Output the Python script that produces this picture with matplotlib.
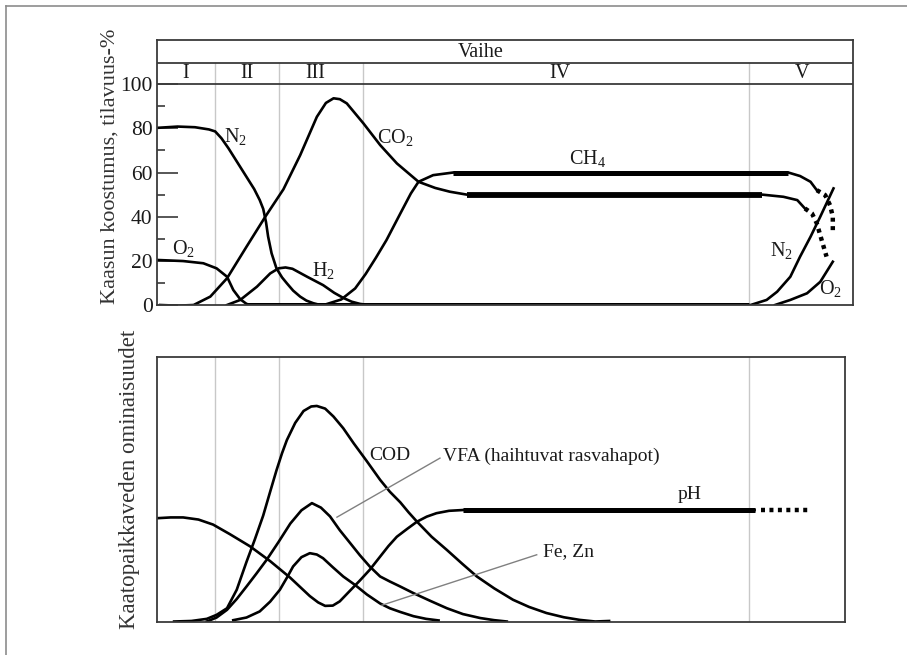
import numpy as np
import matplotlib
matplotlib.use('Agg')
import matplotlib.pyplot as plt
from matplotlib.lines import Line2D

plt.rcParams['font.family'] = ['Liberation Serif', 'DejaVu Serif']
plt.rcParams['mathtext.fontset'] = 'custom'
plt.rcParams['mathtext.rm'] = 'Liberation Serif'
plt.rcParams['mathtext.default'] = 'rm'

############################################
#
# Data (x: time, 0..100 across the top box).
#
phases = ['I', 'II', 'III', 'IV', 'V']
phase_mid = [4.2, 12.9, 22.7, 57.9, 92.7]
phase_edges = [8.4, 17.6, 29.6, 85.1]

# upper panel: gas composition, volume-%
n2_x = [0, 3.0, 5.5, 7.5, 8.4, 9.3, 10.3, 11.5, 12.9, 14.0, 14.8, 15.3, 15.7,
        16.0, 16.5, 17.2, 18.0, 18.7, 19.6, 20.6, 21.5, 22.5, 23.5]
n2_y = [80.2, 80.8, 80.5, 79.5, 78.6, 75.5, 71.0, 65.0, 58.0, 52.5, 47.5, 43.5,
        37.5, 31.0, 23.4, 16.6, 12.5, 9.8, 6.5, 3.8, 2.0, 0.8, 0.0]
o2_x = [0, 3.8, 6.7, 8.6, 10.1, 11.0, 12.0, 12.9, 13.5]
o2_y = [20.4, 19.9, 18.9, 16.6, 12.8, 6.8, 2.6, 0.5, 0.0]
co2_x = [0.5, 3.0, 5.3, 7.7, 10.1, 12.9, 15.6, 18.2, 20.6, 23.0, 24.3, 25.4,
         26.3, 27.3, 29.7, 32.1, 34.5, 37.6, 40.0, 42.1, 44.5, 86.9, 90.0,
         92.0, 93.1]
co2_y = [0.0, -0.3, 0.0, 3.8, 12.1, 26.4, 40.0, 52.4, 67.8, 85.2, 91.5, 93.6,
         93.2, 91.3, 82.2, 72.4, 64.1, 55.8, 53.0, 51.3, 50.0, 50.0, 49.0,
         47.5, 43.7]
co2_tail_x = [93.1, 94.1, 94.8, 95.5, 96.2]
co2_tail_y = [43.7, 41.5, 37.0, 29.4, 21.9]
ch4_x = [24.0, 26.5, 28.5, 30.0, 31.5, 33.0, 35.0, 36.5, 37.6, 39.7, 42.6,
         90.7, 92.4, 93.9, 94.8]
ch4_y = [0.0, 2.5, 7.5, 14.0, 21.5, 29.4, 41.5, 50.5, 55.8, 58.8, 60.0,
         60.0, 58.4, 55.8, 52.0]
ch4_tail_x = [94.8, 96.0, 96.7, 97.1, 97.1]
ch4_tail_y = [52.0, 49.8, 45.2, 40.0, 33.9]
h2_x = [10.1, 12.0, 14.4, 16.3, 17.5, 18.5, 19.5, 21.6, 23.9, 25.5, 26.8,
        28.0, 29.2, 30.5]
h2_y = [0.0, 2.3, 8.3, 14.3, 16.6, 17.0, 16.4, 12.8, 9.0, 5.5, 3.2, 1.5,
        0.5, 0.0]
zero_x = [13.0, 85.1]
zero_y = [0.0, 0.0]
n2_end_x = [85.3, 87.6, 89.1, 91.0, 92.4, 93.9, 95.3, 97.2]
n2_end_y = [0.0, 2.3, 6.0, 12.8, 21.9, 30.9, 40.0, 52.8]
o2_end_x = [88.8, 91.0, 93.4, 95.3, 97.1]
o2_end_y = [0.0, 2.3, 5.3, 10.5, 19.6]

# lower panel: leachate properties (relative scale)
cod_x = [2.5, 5.0, 7.2, 8.6, 10.1, 11.5, 12.9, 14.1, 15.3, 16.3, 17.2, 18.0,
         18.7, 19.9, 21.1, 22.2, 23.0, 24.2, 25.4, 26.8, 28.3, 30.2, 32.1,
         33.5, 35.0, 36.2, 37.4, 39.5, 41.7, 43.9, 46.0, 48.5, 51.2, 53.5,
         56.0, 58.5, 60.8, 63.0, 65.0]
cod_y = [0.0, 0.2, 1.0, 2.5, 5.0, 12.0, 22.5, 31.0, 40.0, 49.0, 57.0, 63.5,
         68.5, 75.0, 79.5, 81.2, 81.4, 80.4, 77.4, 73.0, 67.3, 60.5, 53.5,
         49.0, 45.0, 41.2, 37.7, 32.0, 27.0, 21.8, 17.0, 12.5, 8.2, 5.5,
         3.2, 1.6, 0.6, 0.0, 0.2]
vfa_x = [7.2, 8.6, 10.1, 11.5, 12.9, 14.3, 15.8, 17.5, 19.2, 20.8, 22.3, 23.6,
         24.9, 26.3, 27.8, 29.2, 30.6, 32.1, 33.5, 35.0, 36.9, 39.3, 41.7,
         44.0, 46.5, 48.5, 50.3]
vfa_y = [0.0, 1.5, 4.4, 8.5, 13.2, 18.0, 23.3, 30.0, 37.0, 42.0, 44.7, 43.0,
         39.7, 34.5, 29.6, 25.0, 20.8, 17.0, 15.1, 13.2, 10.7, 7.8, 5.0,
         2.8, 1.3, 0.5, 0.0]
fezn_x = [11.0, 12.9, 14.8, 16.3, 17.7, 18.7, 19.6, 20.8, 22.0, 23.0, 23.9,
          25.3, 26.8, 28.5, 30.2, 32.1, 33.5, 35.0, 36.9, 38.7, 40.5]
fezn_y = [0.5, 1.5, 3.8, 7.5, 12.0, 16.5, 20.8, 24.3, 25.8, 25.3, 23.9,
          20.5, 17.0, 13.8, 10.2, 6.8, 5.0, 3.6, 2.0, 1.0, 0.4]
ph_x = [0, 2.0, 3.8, 6.0, 8.1, 10.5, 13.4, 16.3, 19.2, 22.0, 23.2, 24.2,
        25.3, 26.3, 27.8, 29.2, 30.6, 32.1, 33.3, 34.5, 36.0, 37.4, 38.8,
        40.2, 42.0, 44.0, 85.9]
ph_y = [39.0, 39.3, 39.3, 38.5, 36.6, 33.0, 28.4, 22.8, 16.5, 9.6, 7.2, 5.9,
        6.0, 7.6, 11.7, 15.5, 19.5, 24.5, 28.5, 32.0, 35.0, 37.7, 39.6,
        40.9, 41.8, 42.1, 42.1]
ph_tail_x = [86.8, 94.0]
ph_tail_y = [42.1, 42.1]
vfa_ptr = ([25.9, 40.7], [39.4, 61.7])
fezn_ptr = ([32.3, 54.6], [6.1, 25.2])


############################################
#
# Helpers.
#
LW = 1.9
LW_THICK = 3.6
GRID = '#c8c8c8'
FRAME = '#3a3a3a'
TXT = '#1a1a1a'


def thick_part(x, y, x0, x1):
    x = np.asarray(x)
    y = np.asarray(y)
    m = (x >= x0) & (x <= x1)
    return x[m], y[m]


def dotted(ax, x, y):
    ax.plot(x, y, color='k', lw=3.2, linestyle=(0, (0.9, 1.0)),
            dash_capstyle='butt', solid_capstyle='butt')


W, H = 907, 655
fig = plt.figure(figsize=(W / 100, H / 100), dpi=100)

# thin frame around the page
fig.add_artist(Line2D([6 / W, 6 / W], [0, 1 - 6 / H], color='#8c8c8c', lw=1.2))
fig.add_artist(Line2D([6 / W, 1], [1 - 6 / H, 1 - 6 / H], color='#8c8c8c', lw=1.2))

############################################
#
# Upper panel.
#
ax1 = fig.add_axes([156.7 / W, 1 - 305 / H, (853 - 156.7) / W, (305 - 40) / H])
ax1.set_xlim(0, 100)
ax1.set_ylim(0, 120)
for s in ax1.spines.values():
    s.set_color(FRAME)
    s.set_linewidth(1.3)
ax1.set_xticks([])
ax1.set_yticks([0, 20, 40, 60, 80, 100])
ax1.set_yticks([10, 30, 50, 70, 90], minor=True)
ax1.tick_params(axis='y', which='major', direction='in', length=15, width=1.2,
                color=FRAME, labelsize=15.5, labelcolor=TXT, pad=3)
ax1.tick_params(axis='y', which='minor', direction='in', length=6, width=1.2,
                color=FRAME)

# header rows
ax1.axhline(100, color=FRAME, lw=1.3)
ax1.axhline(109.5, color=FRAME, lw=1.3)
for xe in phase_edges:
    ax1.plot([xe, xe], [0, 109.5], color=GRID, lw=1.0, zorder=1)
for lab, xm in zip(phases, phase_mid):
    ax1.text(xm, 104.8, lab, ha='center', va='center', fontsize=14.5, color=TXT)
ax1.text(46.6, 114.2, 'Vaihe', ha='center', va='center', fontsize=14.5, color=TXT)

for x, y in [(n2_x, n2_y), (o2_x, o2_y), (co2_x, co2_y), (ch4_x, ch4_y),
             (h2_x, h2_y), (n2_end_x, n2_end_y), (o2_end_x, o2_end_y)]:
    ax1.plot(x, y, color='k', lw=LW, solid_joinstyle='round')
ax1.plot(zero_x, zero_y, color='k', lw=LW_THICK, solid_capstyle='butt')
ax1.plot(*thick_part(co2_x, co2_y, 44.5, 86.9), color='k', lw=LW_THICK + 0.6,
         solid_capstyle='butt')
ax1.plot(*thick_part(ch4_x, ch4_y, 42.6, 90.7), color='k', lw=LW_THICK,
         solid_capstyle='butt')
dotted(ax1, co2_tail_x, co2_tail_y)
dotted(ax1, ch4_tail_x, ch4_tail_y)

lab_kw = dict(ha='center', va='center', fontsize=14.5, color=TXT)
ax1.text(11.3, 76.5, 'N$_2$', **lab_kw)
ax1.text(34.2, 76.0, 'CO$_2$', **lab_kw)
ax1.text(3.9, 25.5, 'O$_2$', **lab_kw)
ax1.text(23.9, 15.5, 'H$_2$', **lab_kw)
ax1.text(61.8, 66.5, 'CH$_4$', **lab_kw)
ax1.text(89.8, 24.5, 'N$_2$', **lab_kw)
ax1.text(96.8, 7.5, 'O$_2$', **lab_kw)

fig.text(110 / W, 1 - 166.5 / H, 'Kaasun koostumus, tilavuus-%', rotation=90,
         ha='center', va='center', fontsize=16, color='#333333')

############################################
#
# Lower panel.
#
ax2 = fig.add_axes([156.7 / W, 1 - 621.5 / H, (845 - 156.7) / W, (621.5 - 356.7) / H])
ax2.set_xlim(0, (845 - 156.7) / 6.96)
ax2.set_ylim(0, 100)
for s in ax2.spines.values():
    s.set_color(FRAME)
    s.set_linewidth(1.3)
ax2.set_xticks([])
ax2.set_yticks([])
for xe in phase_edges:
    ax2.plot([xe, xe], [0, 100], color=GRID, lw=1.0, zorder=1)

for x, y in [(cod_x, cod_y), (vfa_x, vfa_y), (fezn_x, fezn_y), (ph_x, ph_y)]:
    ax2.plot(x, y, color='k', lw=LW, solid_joinstyle='round')
ax2.plot(*thick_part(ph_x, ph_y, 44.0, 85.9), color='k', lw=LW_THICK,
         solid_capstyle='butt')
dotted(ax2, ph_tail_x, ph_tail_y)

ax2.plot(*vfa_ptr, color='#808080', lw=1.0)
ax2.plot(*fezn_ptr, color='#808080', lw=1.0)

ax2.text(30.6, 62.5, 'COD', ha='left', va='center', fontsize=14, color=TXT)
ax2.text(41.2, 62.5, 'VFA (haihtuvat rasvahapot)', ha='left', va='center',
         fontsize=14, color=TXT)
ax2.text(55.5, 26.4, 'Fe, Zn', ha='left', va='center', fontsize=14, color=TXT)
ax2.text(76.6, 47.8, 'pH', ha='center', va='center', fontsize=14, color=TXT)

fig.text(130 / W, 1 - 479 / H, 'Kaatopaikkaveden ominaisuudet', rotation=90,
         ha='center', va='center', fontsize=16.5, color='#333333')

fig.savefig('out.png', dpi=100)
